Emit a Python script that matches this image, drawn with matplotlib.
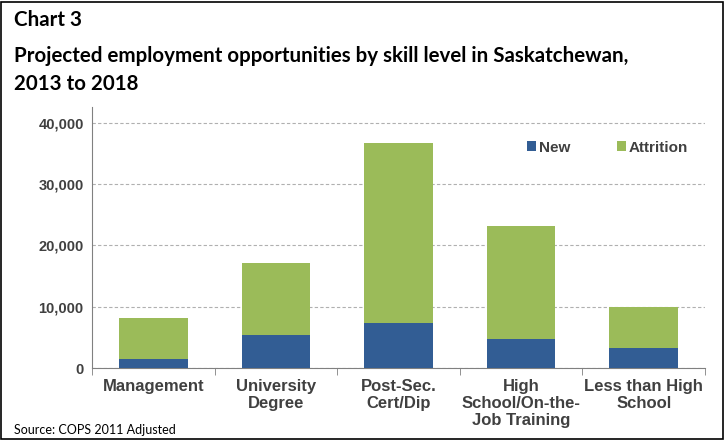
import matplotlib.pyplot as plt
from matplotlib.patches import Rectangle
import numpy as np

# ======== Data ========
categories = ["Management", "University\nDegree", "Post-Sec.\nCert/Dip",
              "High\nSchool/On-the-\nJob Training", "Less than High\nSchool"]
new_jobs = [1500, 5400, 7300, 4800, 3200]
attrition = [6600, 11700, 29400, 18350, 6700]

blue = "#325d94"
green = "#9bbb59"
text_grey = "#404040"

# ======== Figure ========
fig = plt.figure(figsize=(7.26, 4.40), dpi=100)
ax = fig.add_axes([92 / 726, 1 - 368 / 440, 613 / 726, 246 / 440 * 1.06])

x = np.arange(len(categories))
ax.bar(x, new_jobs, width=0.56, color=blue, label="New", zorder=3)
ax.bar(x, attrition, width=0.56, bottom=new_jobs, color=green, label="Attrition", zorder=3)

ax.set_xlim(-0.5, len(categories) - 0.5)
ax.set_ylim(0, 42500)
ax.set_yticks(np.arange(0, 40001, 10000))
ax.set_yticklabels([f"{v:,}" for v in range(0, 40001, 10000)])
ax.yaxis.grid(True, linestyle=(0, (3, 2)), color="#b0b0b0", linewidth=0.8, zorder=0)

# category labels sit between the boundary ticks
ax.set_xticks(x)
ax.set_xticklabels(categories, fontfamily="Liberation Sans", fontweight="bold",
                   fontsize=12, color=text_grey, linespacing=1.15)
ax.tick_params(axis="x", length=0, pad=8)
ax.set_xticks(np.arange(-0.5, len(categories), 1), minor=True)
ax.tick_params(axis="x", which="minor", length=5, direction="out", color="#808080")
ax.tick_params(axis="y", length=0, pad=6)
for lbl in ax.get_yticklabels():
    lbl.set_fontfamily("Liberation Sans")
    lbl.set_fontweight("bold")
    lbl.set_fontsize(10.5)
    lbl.set_color(text_grey)

for side in ["top", "right"]:
    ax.spines[side].set_visible(False)
ax.spines["left"].set_color("#808080")
ax.spines["bottom"].set_color("#808080")

leg = ax.legend(loc="upper right", bbox_to_anchor=(0.995, 0.925), ncol=2, frameon=False,
                handlelength=0.6, handleheight=0.6, handletextpad=0.2, columnspacing=3.0,
                prop={"family": "Liberation Sans", "weight": "bold", "size": 11})
for t in leg.get_texts():
    t.set_color(text_grey)

# ======== Titles and source ========
title_font = dict(family="Lato", weight="bold", size=14.8, color="black")
fig.text(14 / 726, 1 - 26 / 440, "Chart 3", **title_font)
fig.text(14 / 726, 1 - 62 / 440,
         "Projected employment opportunities by skill level in Saskatchewan,", **title_font)
fig.text(14 / 726, 1 - 90 / 440, "2013 to 2018", **title_font)
fig.text(14 / 726, 1 - 434 / 440, "Source: COPS 2011 Adjusted",
         family="Lato", size=9, color="black")

# outer frame
fig.patches.append(Rectangle((0.002, 0.002), 0.994, 0.994, transform=fig.transFigure,
                             fill=False, edgecolor="black", linewidth=1.2))

fig.savefig("out.png", dpi=100)
